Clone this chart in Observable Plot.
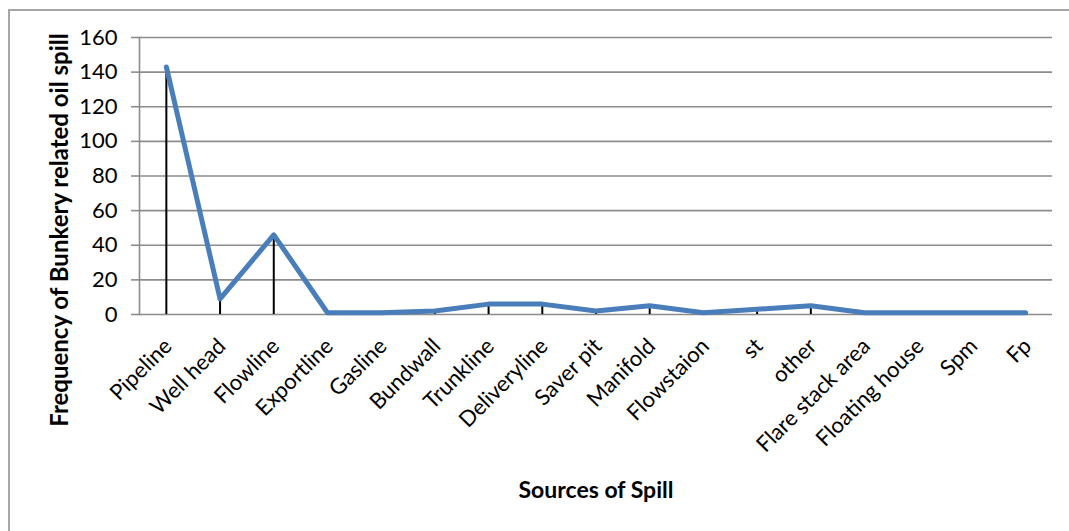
<!DOCTYPE html>
<html>
<head>
<meta charset="utf-8">
<script src="https://cdn.jsdelivr.net/npm/d3@7"></script>
<script src="https://cdn.jsdelivr.net/npm/@observablehq/plot@0.6"></script>
<style>
  html, body { margin: 0; padding: 0; background: #fff; overflow: hidden; }
  #wrap { position: relative; width: 1069px; height: 531px; }
  #border { position: absolute; left: 8px; top: 9px; width: 1080px; height: 540px; border: 2px solid #a6a6a6; box-sizing: border-box; pointer-events: none; }
  #chart { position: absolute; left: 0; top: 0; }
</style>
</head>
<body>
<div id="wrap"><div id="border"></div><div id="chart"></div></div>
<script>
const categories = ["Pipeline", "Well head", "Flowline", "Exportline", "Gasline", "Bundwall", "Trunkline", "Deliveryline", "Saver pit", "Manifold", "Flowstaion", "st", "other", "Flare stack area", "Floating house", "Spm", "Fp"];
const values = [143, 9, 46, 1, 1, 2, 6, 6, 2, 5, 1, 3, 5, 1, 1, 1, 1];
const yTicks = [0, 20, 40, 60, 80, 100, 120, 140, 160];
const xTitle = "Sources of Spill";
const yTitle = "Frequency of Bunkery related oil spill";

const data = categories.map((c, i) => ({ source: c, value: values[i] }));
const font = "Lato, 'Open Sans', sans-serif";

const chart = Plot.plot({
  width: 1069,
  height: 531,
  marginLeft: 139,
  marginRight: 17,
  marginTop: 37,
  marginBottom: 217,
  style: { fontFamily: font, background: "transparent", color: "#000" },
  x: { type: "point", domain: categories, padding: 0.5, round: false },
  y: { domain: [0, 160] },
  marks: [
    Plot.ruleY(yTicks, { stroke: "#8c8c8c", strokeWidth: 1.6 }),
    Plot.axisY({ ticks: yTicks, tickSize: 8, tickPadding: 14, fontSize: 22, label: null, stroke: "#8c8c8c", strokeWidth: 1.6, strokeOpacity: 1 }),
    Plot.frame({ anchor: "left", stroke: "#8c8c8c", strokeWidth: 1.6 }),
    Plot.axisX({ tickSize: 0, tickPadding: 28, tickRotate: -45, fontSize: 22, label: null, dx: 2 }),
    Plot.ruleX(data, { x: "source", y1: 0, y2: "value", stroke: "#000", strokeWidth: 2 }),
    Plot.line(data, { x: "source", y: "value", stroke: "#4a7ebb", strokeWidth: 5, strokeLinejoin: "round", strokeLinecap: "round" }),
    Plot.text([xTitle], { frameAnchor: "bottom", dy: 176, fontSize: 23, fontWeight: "bold", lineAnchor: "middle" }),
    Plot.text([yTitle], { frameAnchor: "left", textAnchor: "middle", dx: -79, dy: 54, rotate: -90, fontSize: 24, fontWeight: "bold", lineAnchor: "middle" })
  ]
});
document.getElementById("chart").appendChild(chart);
</script>
</body>
</html>
